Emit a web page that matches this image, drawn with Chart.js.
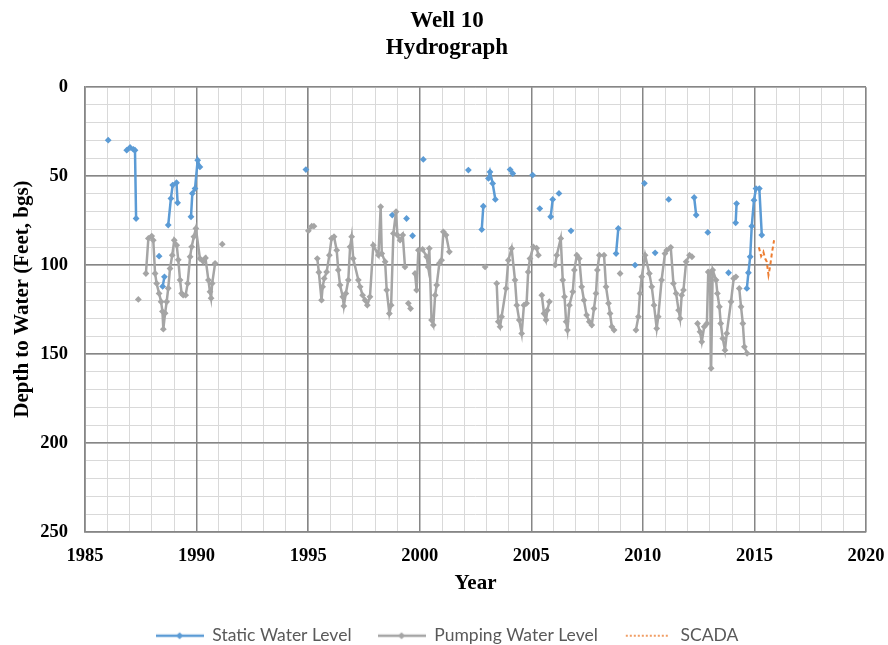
<!DOCTYPE html>
<html>
<head>
<meta charset="utf-8">
<script src="https://cdn.jsdelivr.net/npm/chart.js@4.4.0/dist/chart.umd.min.js"></script>
<style>
html,body{margin:0;padding:0;background:#ffffff;}
#wrap{width:888px;height:645px;position:relative;}
</style>
</head>
<body>
<div id="wrap"><canvas id="c" width="888" height="645"></canvas></div>
<script>
// ---- DATA (null = break in the line) ----
const staticYears = [1986.04, null,
  1986.87, 1987.02, 1987.17, 1987.24, 1987.29, null,
  1988.32, null,
  1988.48, 1988.56, null,
  1988.73, 1988.85, 1988.93, 1989.10, 1989.15, null,
  1989.75, 1989.81, 1989.93, 1990.05, 1990.15, null,
  1994.90, null, 1998.77, null, 1999.41, null, 1999.68, null, 2000.16, null, 2002.18, null,
  2002.78, 2002.85, null,
  2003.08, 2003.15, 2003.27, 2003.39, null,
  2004.05, 2004.17, null,
  2005.06, null, 2005.38, null,
  2005.87, 2005.96, null, 2006.24, null, 2006.78, null,
  2008.80, 2008.90, null, 2009.65, null, 2010.07, null, 2010.55, null, 2011.16, null,
  2012.30, 2012.39, null, 2012.91, null, 2013.84, null,
  2014.16, 2014.20, null,
  2014.66, 2014.73, 2014.81, 2014.88, 2014.98, 2015.07, 2015.22, 2015.33];
const staticDepths = [29.8, null,
  35.4, 33.9, 35.0, 35.4, 73.8, null,
  95.0, null,
  112.0, 106.6, null,
  77.5, 62.5, 55.0, 53.7, 65.0, null,
  72.8, 59.7, 57.0, 41.0, 44.8, null,
  46.3, null, 71.9, null, 73.8, null, 83.5, null, 40.6, null, 46.6, null,
  80.0, 66.9, null,
  51.3, 47.6, 54.1, 63.1, null,
  46.3, 48.5, null,
  49.4, null, 68.2, null,
  72.8, 63.1, null, 59.7, null, 80.7, null,
  93.5, 79.4, null, 100.0, null, 54.0, null, 93.1, null, 63.1, null,
  62.0, 71.9, null, 81.6, null, 104.3, null,
  76.2, 65.4, null,
  113.1, 104.3, 95.3, 78.1, 63.5, 57.0, 57.0, 83.1];

const pumpYears = [1987.39, null,
  1987.73, 1987.84, 1987.99, 1988.06, 1988.14, 1988.21, 1988.32, 1988.41, 1988.47, 1988.51,
  1988.59, 1988.66, 1988.73, 1988.81, 1988.91, 1989.00, 1989.11, 1989.18, 1989.26, 1989.33,
  1989.40, 1989.51, 1989.60, 1989.71, 1989.78, 1989.88, 1989.97, 1990.15, 1990.30, 1990.40,
  1990.53, 1990.60, 1990.65, 1990.70, 1990.83, null,
  1991.15, null,
  1995.01, 1995.16, 1995.26, null,
  1995.41, 1995.48, 1995.60, 1995.65, 1995.72, 1995.83, 1995.95, 1996.05, 1996.16, 1996.28,
  1996.35, 1996.43, 1996.55, 1996.60, 1996.69, 1996.80, 1996.88, 1996.95, 1997.02, 1997.25,
  1997.33, 1997.44, 1997.55, 1997.65, 1997.77, 1997.92, 1998.15, 1998.25, 1998.30, 1998.45,
  1998.52, 1998.64, 1998.72, 1998.82, 1998.94, 1999.00, 1999.12, 1999.24, 1999.34, null,
  1999.49, 1999.59, null,
  1999.79, 1999.86, 1999.94, 2000.13, 2000.31, 2000.38, 2000.43, 2000.53, 2000.61, 2000.69,
  2000.76, 2000.88, 2000.98, 2001.06, 2001.18, 2001.33, null,
  2002.93, null,
  2003.45, 2003.52, 2003.60, 2003.67, 2003.87, 2003.97, 2004.12, 2004.27, 2004.35, 2004.46,
  2004.57, 2004.67, 2004.79, 2004.86, 2004.94, 2005.09, 2005.24, 2005.32, null,
  2005.47, 2005.57, 2005.66, 2005.72, 2005.81, null,
  2006.07, 2006.14, 2006.32, 2006.41, 2006.49, 2006.56, 2006.62, 2006.71, 2006.86, 2006.93,
  2007.04, 2007.15, 2007.26, 2007.36, 2007.48, 2007.60, 2007.71, 2007.81, 2007.90, 2007.96,
  2008.05, 2008.26, 2008.35, 2008.46, 2008.53, 2008.61, 2008.71, null,
  2008.98, null,
  2009.69, 2009.80, 2009.87, 2009.95, 2010.10, 2010.29, 2010.40, 2010.50, 2010.62, 2010.69,
  2010.84, 2010.99, 2011.07, 2011.25, 2011.37, 2011.49, 2011.60, 2011.67, 2011.74, 2011.82,
  2011.94, 2012.09, 2012.20, null,
  2012.45, 2012.56, 2012.64, 2012.75, 2012.87, 2012.93, 2013.01, 2013.06, 2013.13, 2013.28,
  2013.34, 2013.43, 2013.49, 2013.58, 2013.68, 2013.76, 2013.95, 2014.07, 2014.17, null,
  2014.32, 2014.40, 2014.48, 2014.55, 2014.67];
const pumpDepths = [119.3, null,
  104.7, 85.0, 83.7, 86.0, 104.7, 110.3, 115.9, 120.6, 126.0, 136.0,
  127.0, 120.6, 113.0, 101.9, 94.4, 86.0, 88.8, 97.0, 108.4, 115.9,
  116.9, 116.9, 110.3, 95.3, 89.7, 84.0, 79.4, 96.3, 98.0, 96.0,
  108.4, 115.0, 118.6, 110.3, 99.0, null,
  88.2, null,
  80.7, 78.1, 78.1, null,
  96.3, 104.0, 119.7, 112.2, 107.5, 103.8, 94.4, 85.0, 84.0, 91.6,
  102.8, 111.2, 117.8, 123.0, 115.9, 108.4, 89.7, 84.0, 96.3, 108.4,
  112.2, 116.9, 119.7, 122.5, 117.8, 88.8, 94.4, 67.2, 93.5, 98.1,
  114.0, 127.2, 122.5, 82.2, 70.0, 83.1, 86.0, 83.1, 101.0, null,
  121.5, 124.4, null,
  104.7, 114.0, 91.6, 91.2, 95.3, 101.0, 90.6, 130.9, 133.7, 116.9,
  111.2, 99.0, 97.2, 81.3, 83.1, 92.5, null,
  101.0, null,
  110.3, 131.8, 134.6, 129.0, 113.1, 97.2, 90.6, 108.4, 122.5, 130.9,
  138.4, 122.5, 121.5, 103.8, 96.3, 89.7, 90.5, 94.4, null,
  116.9, 127.2, 130.9, 125.3, 120.6, null,
  100.0, 94.4, 85.0, 108.4, 117.8, 131.8, 136.5, 122.5, 115.0, 102.8,
  94.4, 96.3, 112.2, 119.7, 128.1, 131.8, 133.7, 124.4, 115.9, 102.8,
  94.4, 94.4, 112.2, 121.5, 127.2, 134.6, 136.5, null,
  104.7, null,
  136.5, 129.0, 115.9, 106.6, 94.4, 104.7, 112.2, 122.5, 135.6, 129.0,
  108.4, 93.5, 91.6, 90.0, 110.3, 115.9, 125.3, 130.0, 116.9, 114.0,
  98.1, 94.4, 95.3, null,
  132.8, 137.5, 143.1, 134.6, 132.8, 103.8, 104.7, 158.0, 102.8, 108.4,
  115.9, 123.4, 132.8, 141.2, 147.8, 138.4, 120.6, 107.5, 106.6, null,
  113.1, 123.4, 132.8, 145.9, 149.6];

const scadaYears = [2015.20, 2015.30, 2015.40, 2015.48, 2015.55, 2015.63, 2015.70, 2015.78, 2015.88];
const scadaDepths = [90.0, 95.0, 92.5, 96.3, 98.0, 105.6, 101.0, 93.5, 86.0];

const seriesNames = ['Static Water Level', 'Pumping Water Level', 'SCADA'];
const titleLines = ['Well 10', 'Hydrograph'];
const xTitle = 'Year';
const yTitle = 'Depth to Water (Feet, bgs)';

// ---- helpers ----
function toPoints(xs, ys) {
  return xs.map((x, i) => ({ x: x, y: ys[i] }));
}
const BLUE = '#5B9BD5', GRAY = '#A5A5A5', ORANGE = '#ED7D31';
const MAJOR = '#868686', MINOR = '#d9d9d9';
const serif = "'Liberation Serif', 'Times New Roman', serif";

function legendImage(color, dotted, marker) {
  const cv = document.createElement('canvas');
  cv.width = 48; cv.height = 12;
  const g = cv.getContext('2d');
  g.strokeStyle = color;
  g.lineWidth = dotted ? 1.5 : 2.5;
  if (dotted) g.setLineDash([2, 2]);
  g.beginPath(); g.moveTo(dotted ? 2 : 0, 6); g.lineTo(dotted ? 46 : 48, 6); g.stroke();
  if (marker) {
    g.setLineDash([]);
    g.fillStyle = color;
    g.beginPath(); g.moveTo(24, 2.5); g.lineTo(27.5, 6); g.lineTo(24, 9.5); g.lineTo(20.5, 6); g.closePath(); g.fill();
  }
  return cv;
}
const legendImgs = [legendImage(BLUE, false, true), legendImage(GRAY, false, true), legendImage(ORANGE, true, false)];

const legendFitPlugin = {
  id: 'legendFit',
  afterInit(chart) {
    const lg = chart.legend;
    if (!lg) return;
    const orig = lg.fit.bind(lg);
    lg.fit = function () { orig(); this.height = 44; };
  }
};

const ctx = document.getElementById('c').getContext('2d');
new Chart(ctx, {
  type: 'scatter',
  data: {
    datasets: [
      {
        label: seriesNames[0],
        data: toPoints(staticYears, staticDepths),
        showLine: true, spanGaps: false,
        borderColor: BLUE, backgroundColor: BLUE, borderWidth: 2.5,
        pointStyle: 'rectRot', pointRadius: 3.4, pointBorderWidth: 0,
        pointBackgroundColor: BLUE, order: 2
      },
      {
        label: seriesNames[1],
        data: toPoints(pumpYears, pumpDepths),
        showLine: true, spanGaps: false,
        borderColor: GRAY, backgroundColor: GRAY, borderWidth: 2.5,
        pointStyle: 'rectRot', pointRadius: 3.4, pointBorderWidth: 0,
        pointBackgroundColor: GRAY, order: 1
      },
      {
        label: seriesNames[2],
        data: toPoints(scadaYears, scadaDepths),
        showLine: true, spanGaps: false,
        borderColor: ORANGE, backgroundColor: ORANGE, borderWidth: 2,
        borderDash: [4, 3], pointRadius: 0, order: 0
      }
    ]
  },
  options: {
    responsive: false,
    animation: false,
    devicePixelRatio: 1,
    layout: { padding: { left: 6, right: 0, top: 0, bottom: 0 } },
    plugins: {
      tooltip: { enabled: false },
      title: {
        display: true,
        text: titleLines,
        color: '#000',
        font: { family: serif, size: 23, weight: 'bold', lineHeight: 1.2 },
        padding: { top: 7, bottom: 25 }
      },
      legend: {
        position: 'bottom',
        labels: {
          usePointStyle: true,
          pointStyleWidth: 48,
          padding: 26,
          color: '#595959',
          font: { family: "Lato, 'Liberation Sans', sans-serif", size: 17.5 },
          generateLabels: (chart) => seriesNames.map((n, i) => ({
            text: n, pointStyle: legendImgs[i], datasetIndex: i,
            hidden: false, lineWidth: 0, fillStyle: 'transparent', strokeStyle: 'transparent',
            fontColor: '#595959'
          }))
        }
      }
    },
    scales: {
      xm: {
        type: 'linear', axis: 'x', position: 'bottom', min: 1985, max: 2020, z: -1,
        ticks: { display: false, stepSize: 1, autoSkip: false },
        grid: { color: MINOR, lineWidth: 1, drawTicks: false },
        border: { display: false },
        afterFit: (s) => { s.height = 0; }
      },
      ym: {
        type: 'linear', axis: 'y', position: 'left', min: 0, max: 250, reverse: true, z: -1,
        ticks: { display: false, stepSize: 10, autoSkip: false },
        grid: { color: MINOR, lineWidth: 1, drawTicks: false },
        border: { display: false },
        afterFit: (s) => { s.width = 0; }
      },
      yr: {
        type: 'linear', axis: 'y', position: 'right', min: 0, max: 250,
        ticks: { display: false },
        grid: { display: false, drawTicks: false },
        border: { display: false },
        afterFit: (s) => { s.width = 22; }
      },
      x: {
        type: 'linear', position: 'bottom', min: 1985, max: 2020,
        ticks: {
          stepSize: 5, autoSkip: false, maxRotation: 0, padding: 3.5, color: '#000',
          font: { family: serif, size: 18.5, weight: 'bold' },
          callback: (v) => String(v)
        },
        grid: { color: MAJOR, lineWidth: 1.5, drawTicks: true, tickLength: 10, tickColor: 'rgba(0,0,0,0)' },
        border: { display: true, color: MAJOR, width: 1.5 },
        title: {
          display: true, text: xTitle, color: '#000',
          font: { family: serif, size: 21, weight: 'bold', lineHeight: 1.2 },
          padding: { top: 0, bottom: 4.5 }
        },
        afterFit: (s) => { s.height = 69; }
      },
      y: {
        type: 'linear', position: 'left', min: 0, max: 250, reverse: true,
        ticks: {
          stepSize: 50, autoSkip: false, padding: 17, color: '#000',
          font: { family: serif, size: 18.5, weight: 'bold' },
          callback: (v) => String(v)
        },
        grid: { color: MAJOR, lineWidth: 1.5, drawTicks: false },
        border: { display: true, color: MAJOR, width: 1.5 },
        title: {
          display: true, text: '    ' + yTitle, color: '#000',
          font: { family: serif, size: 21, weight: 'bold', lineHeight: 1.2 },
          padding: { top: 4, bottom: 0 }
        },
        afterFit: (s) => { s.width = 79; }
      }
    }
  },
  plugins: [legendFitPlugin]
});
</script>
</body>
</html>
